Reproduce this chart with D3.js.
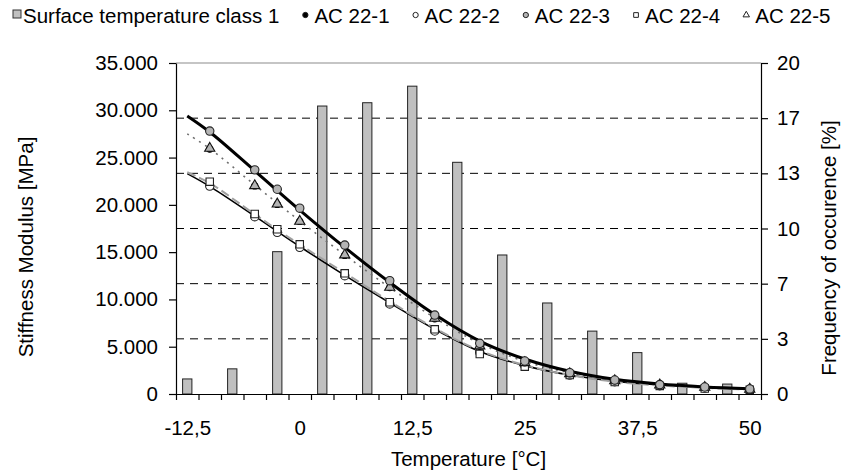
<!DOCTYPE html>
<html>
<head>
<meta charset="utf-8">
<script src="https://cdn.jsdelivr.net/npm/d3@7"></script>
<style>
body { margin: 0; background: #fff; }
text { font-family: "Liberation Sans", Arial, sans-serif; }
</style>
</head>
<body>
<svg id="chart" width="842" height="474"></svg>
<script>
// measured temperatures [°C]
var temps = [-10, -5, -2.5, 0, 5, 10, 15, 20, 25, 30, 35, 40, 45, 50];
// stiffness modulus [MPa] per mix
var ac221 = [25900, 22000, 20050, 18250, 14650, 11250, 7950, 5050, 3300, 2150, 1400, 950, 700, 500];
var ac222 = [21990, 18750, 17100, 15510, 12510, 9520, 6660, 4400, 3000, 2000, 1300, 880, 620, 470];
var ac223 = [27800, 23700, 21650, 19650, 15750, 11980, 8350, 5360, 3490, 2250, 1480, 1000, 740, 530];
var ac224 = [22450, 19030, 17420, 15830, 12760, 9700, 6840, 4230, 2890, 2010, 1270, 850, 580, 450];
var ac225 = [25980, 22030, 20090, 18260, 14700, 11280, 8000, 5080, 3310, 2150, 1400, 950, 700, 500];

var trendTemps = [-12.5, -10, -5, 0, 5, 10, 15, 20, 25, 30, 35, 40, 45, 50];
var trendThick  = [29400, 27700, 23600, 19450, 15500, 11800, 8400, 5600, 3700, 2400, 1550, 1050, 750, 550];
var trendDotted = [27500, 25950, 22100, 18300, 14700, 11250, 8050, 5350, 3450, 2250, 1450, 1000, 700, 500];
var trendDashed = [23450, 22300, 19000, 15800, 12800, 9800, 6950, 4600, 3050, 2000, 1300, 900, 650, 450];
var trendThin   = [23300, 21950, 18800, 15600, 12550, 9650, 6850, 4500, 3000, 2000, 1350, 950, 700, 500];

// surface temperature class 1, frequency of occurence [%]
var classTemps = [-12.5, -7.5, -2.5, 2.5, 7.5, 12.5, 17.5, 22.5, 27.5, 32.5, 37.5, 42.5, 47.5];
var classFreq  = [0.91, 1.52, 8.6, 17.4, 17.6, 18.6, 14.0, 8.4, 5.5, 3.8, 2.5, 0.65, 0.6];

var leftTicks = [0, 5000, 10000, 15000, 20000, 25000, 30000, 35000];
var rightTicks = [0, 10/3, 20/3, 10, 40/3, 50/3, 20];
var xLabels = [-12.5, 0, 12.5, 25, 37.5, 50];
var xBounds = d3.range(-13.75, 51.26, 2.5);

var legendNames = ["AC 22-1", "AC 22-2", "AC 22-3", "AC 22-4", "AC 22-5"];

var fontSize = "20.5px";
var margin = {top: 63, right: 81, bottom: 80, left: 176};
var svg = d3.select("#chart");
var width = +svg.attr("width") - margin.left - margin.right;
var height = +svg.attr("height") - margin.top - margin.bottom;

var loc = d3.formatLocale({decimal: ",", thousands: ".", grouping: [3], currency: ["", ""], minus: "-"});

var x = d3.scaleLinear().domain([-13.75, 51.25]).range([0, width]);
var yL = d3.scaleLinear().domain([0, 35000]).range([height, 0]);
var yR = d3.scaleLinear().domain([0, 20]).range([height, 0]);

var g = svg.append("g").attr("transform", "translate(" + margin.left + "," + margin.top + ")");

// dashed grid of the right axis
g.selectAll(".grid").data(rightTicks.slice(1, -1)).enter().append("line")
	.attr("x1", 0).attr("x2", width)
	.attr("y1", function(d){ return yR(d); }).attr("y2", function(d){ return yR(d); })
	.attr("stroke", "#000").attr("stroke-width", 1).attr("stroke-dasharray", "8,6");

// top border
g.append("line").attr("x1", 0).attr("x2", width).attr("y1", 0).attr("y2", 0)
	.attr("stroke", "#8c8c8c").attr("stroke-width", 1.2);

// bars
var barW = 9.3;
g.selectAll(".bar").data(classTemps).enter().append("rect")
	.attr("x", function(d){ return x(d) - barW/2; })
	.attr("y", function(d, i){ return yR(classFreq[i]); })
	.attr("width", barW)
	.attr("height", function(d, i){ return height - yR(classFreq[i]); })
	.attr("fill", "#c0c0c0").attr("stroke", "#222").attr("stroke-width", 1);

// trend lines
var line = d3.line()
	.x(function(d){ return x(d[0]); })
	.y(function(d){ return yL(d[1]); })
	.curve(d3.curveCatmullRom);
function trend(vals, color, w, dash){
	g.append("path").datum(d3.zip(trendTemps, vals))
		.attr("d", line).attr("fill", "none")
		.attr("stroke", color).attr("stroke-width", w)
		.attr("stroke-dasharray", dash);
}
trend(trendThin, "#000", 1.6, null);
trend(trendDashed, "#a0a0a0", 2, "9,4");
trend(trendDotted, "#6e6e6e", 1.6, "2,5");
trend(trendThick, "#000", 3, null);

// markers
var sym = {
	circle: d3.symbol().type(d3.symbolCircle),
	square: d3.symbol().type(d3.symbolSquare),
	triangle: d3.symbol().type(d3.symbolTriangle)
};
function markers(vals, shape, size, fill, stroke){
	g.append("g").selectAll("path").data(temps).enter().append("path")
		.attr("transform", function(d, i){ return "translate(" + x(d) + "," + yL(vals[i]) + ")"; })
		.attr("d", sym[shape].size(size))
		.attr("fill", fill).attr("stroke", stroke).attr("stroke-width", 1.1);
}
markers(ac222, "circle", 55, "#fff", "#222");
markers(ac224, "square", 55, "#fff", "#222");
markers(ac221, "circle", 30, "#000", "#000");
markers(ac225, "triangle", 45, "#b4b4b4", "#111");
markers(ac223, "circle", 55, "#b4b4b4", "#222");

// axes
var axL = g.append("g").call(d3.axisLeft(yL).tickValues(leftTicks).tickSize(7).tickSizeOuter(0).tickPadding(11)
	.tickFormat(loc.format(",.0f")));
var axR = g.append("g").attr("transform", "translate(" + width + ",0)")
	.call(d3.axisRight(yR).tickValues(rightTicks).tickSize(7).tickSizeOuter(0).tickPadding(9)
	.tickFormat(function(d){ return Math.round(d); }));
var axB = g.append("g").attr("transform", "translate(0," + height + ")")
	.call(d3.axisBottom(x).tickValues(xBounds).tickSize(6).tickSizeOuter(0).tickFormat(""));
var axBL = g.append("g").attr("transform", "translate(0," + height + ")")
	.call(d3.axisBottom(x).tickValues(xLabels).tickSize(0).tickPadding(26).tickFormat(loc.format(",.1~f")));
axBL.select(".domain").remove();
[axL, axR, axB, axBL].forEach(function(a){
	a.selectAll("text").style("font-size", fontSize).attr("fill", "#000");
	a.selectAll("line,path").attr("stroke", "#000").attr("stroke-width", 1.2);
});

// axis titles
svg.append("text").attr("transform", "translate(33,247) rotate(-90)")
	.attr("text-anchor", "middle").style("font-size", fontSize).text("Stiffness Modulus [MPa]");
svg.append("text").attr("transform", "translate(836,248) rotate(-90)")
	.attr("text-anchor", "middle").style("font-size", fontSize).text("Frequency of occurence [%]");
svg.append("text").attr("x", margin.left + width/2).attr("y", 466)
	.attr("text-anchor", "middle").style("font-size", fontSize).text("Temperature [°C]");

// legend
var lg = svg.append("g");
var ly = 23;
lg.append("rect").attr("x", 13).attr("y", ly - 13).attr("width", 8).attr("height", 8)
	.attr("fill", "#c0c0c0").attr("stroke", "#333");
var t0 = lg.append("text").attr("x", 23).attr("y", ly).style("font-size", fontSize).text("Surface temperature class 1");
var lx = 23 + t0.node().getComputedTextLength();
var legendMarks = [
	{shape: "circle", size: 22, fill: "#000"},
	{shape: "circle", size: 22, fill: "#fff"},
	{shape: "circle", size: 22, fill: "#b4b4b4"},
	{shape: "square", size: 22, fill: "#fff"},
	{shape: "triangle", size: 18, fill: "#fff"}
];
legendNames.forEach(function(name, i){
	var m = legendMarks[i];
	var cx = lx + 26;
	lg.append("path").attr("transform", "translate(" + cx + "," + (ly - 8) + ")")
		.attr("d", sym[m.shape].size(m.size)).attr("fill", m.fill).attr("stroke", "#222").attr("stroke-width", 1);
	var t = lg.append("text").attr("x", cx + 9).attr("y", ly).style("font-size", fontSize).text(name);
	lx = cx + 9 + t.node().getComputedTextLength();
});
</script>
</body>
</html>
